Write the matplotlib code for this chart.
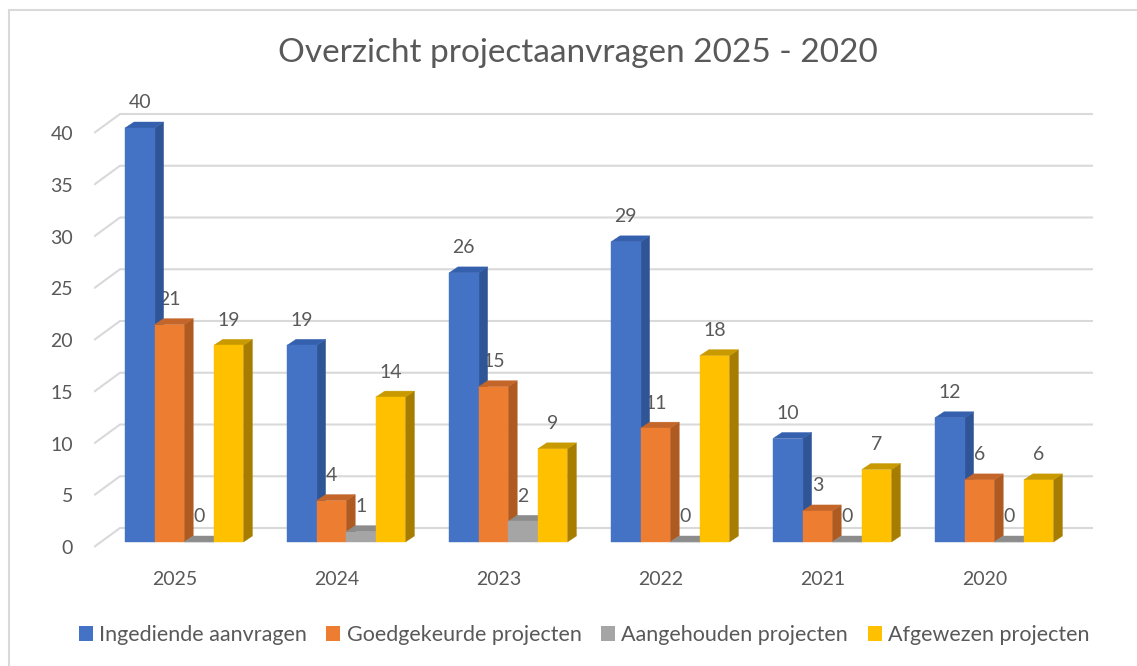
import matplotlib
matplotlib.use("Agg")
import matplotlib.pyplot as plt
from matplotlib.patches import Polygon, Rectangle, Patch
import numpy as np

# ---------------- data ----------------
years = ["2025", "2024", "2023", "2022", "2021", "2020"]
series_names = ["Ingediende aanvragen", "Goedgekeurde projecten",
                "Aangehouden projecten", "Afgewezen projecten"]
ingediend = [40, 19, 26, 29, 10, 12]
goedgekeurd = [21, 4, 15, 11, 3, 6]
aangehouden = [0, 1, 2, 0, 0, 0]
afgewezen = [19, 14, 9, 18, 7, 6]
yticks = [0, 5, 10, 15, 20, 25, 30, 35, 40]
title = "Overzicht projectaanvragen 2025 - 2020"

series = [ingediend, goedgekeurd, aangehouden, afgewezen]
front_cols = ["#4472C4", "#ED7D31", "#A5A5A5", "#FFC000"]
side_cols = ["#2F5597", "#AE5A21", "#7F7F7F", "#A67D00"]
top_cols = ["#3560AE", "#C4662A", "#8C8C8C", "#C89A00"]
TXT = "#595959"
GRID = "#D9D9D9"

plt.rcParams['font.family'] = ['Lato', 'DejaVu Sans']

W, H = 1137, 666
fig = plt.figure(figsize=(W / 100, H / 100), dpi=100)

# axes geometry in pixels
PX_CAT = 162.0      # px per category
PX_UNIT = 10.35     # px per value unit
X0PX = 175.0        # px of category 0
Y0PX = 542.0        # px of value 0 (bar front)
ax_l, ax_r, ax_t, ax_b = 94, 1100, 90, 560
ax = fig.add_axes([ax_l / W, 1 - ax_b / H, (ax_r - ax_l) / W, (ax_b - ax_t) / H])
ax.set_xlim((ax_l - X0PX) / PX_CAT, (ax_r - X0PX) / PX_CAT)
ax.set_ylim((Y0PX - ax_b) / PX_UNIT, (Y0PX - ax_t) / PX_UNIT)
for s in ax.spines.values():
    s.set_visible(False)

# 3D offsets (data units)
bar_w = 29.6 / PX_CAT
bar_off = -50 / PX_CAT
ddx = 9 / PX_CAT
ddy = 6 / PX_UNIT
wall_front_x = (94 - X0PX) / PX_CAT
wall_front_dy = -5 / PX_UNIT
wall_back_x = (120 - X0PX) / PX_CAT
wall_back_dy = 14 / PX_UNIT
grid_end_x = (1093 - X0PX) / PX_CAT

# gridlines on back wall with diagonal on the side wall
for v in yticks:
    ax.plot([wall_front_x, wall_back_x, grid_end_x],
            [v + wall_front_dy, v + wall_back_dy, v + wall_back_dy],
            color=GRID, lw=1.5, zorder=1, solid_capstyle='butt')

# bars
z = 3
for i in range(len(years)):
    for k, vals in enumerate(series):
        v = vals[i]
        x = i + bar_off + k * bar_w
        side = Polygon([(x + bar_w, 0), (x + bar_w + ddx, ddy),
                        (x + bar_w + ddx, v + ddy), (x + bar_w, v)],
                       closed=True, facecolor=side_cols[k], edgecolor=side_cols[k],
                       lw=0.3, zorder=z)
        top = Polygon([(x, v), (x + ddx, v + ddy), (x + bar_w + ddx, v + ddy),
                       (x + bar_w, v)], closed=True, facecolor=top_cols[k],
                      edgecolor=top_cols[k], lw=0.3, zorder=z + 0.1)
        front = Rectangle((x, 0), bar_w, v, facecolor=front_cols[k],
                          edgecolor=front_cols[k], lw=0.3, zorder=z + 0.2)
        ax.add_patch(side)
        ax.add_patch(top)
        ax.add_patch(front)
        z += 1
        ax.annotate(str(v), (x + bar_w / 2, v), xytext=(0, 25 * 0.72),
                    textcoords='offset points', ha='center', va='center',
                    fontsize=14, color=TXT, zorder=2)

# axis ticks
ax.set_yticks(np.array(yticks) + wall_front_dy, labels=[str(t) for t in yticks])
ax.set_xticks(range(len(years)), labels=years)
ax.tick_params(axis='y', length=0, pad=15, labelsize=14, labelcolor=TXT)
ax.tick_params(axis='x', length=0, pad=8, labelsize=14, labelcolor=TXT)

# title
fig.text(578 / W, 1 - 53 / H, title, ha='center', va='center',
         fontsize=24, color=TXT)

# legend
handles = [Patch(facecolor=c, edgecolor='none') for c in front_cols]
fig.legend(handles, series_names, loc='center', bbox_to_anchor=(584 / W, 1 - 635 / H),
           ncol=4, frameon=False, fontsize=15.5, labelcolor=TXT,
           handlelength=0.65, handleheight=0.65, handletextpad=0.3, columnspacing=0.9)

# chart area frame
fig.patches.append(Rectangle((9 / W, -0.1), 1.2, 1 - 10 / H + 0.1, transform=fig.transFigure,
                             fill=False, edgecolor="#D9D9D9", lw=1.5))

fig.savefig("out.png", dpi=100)
